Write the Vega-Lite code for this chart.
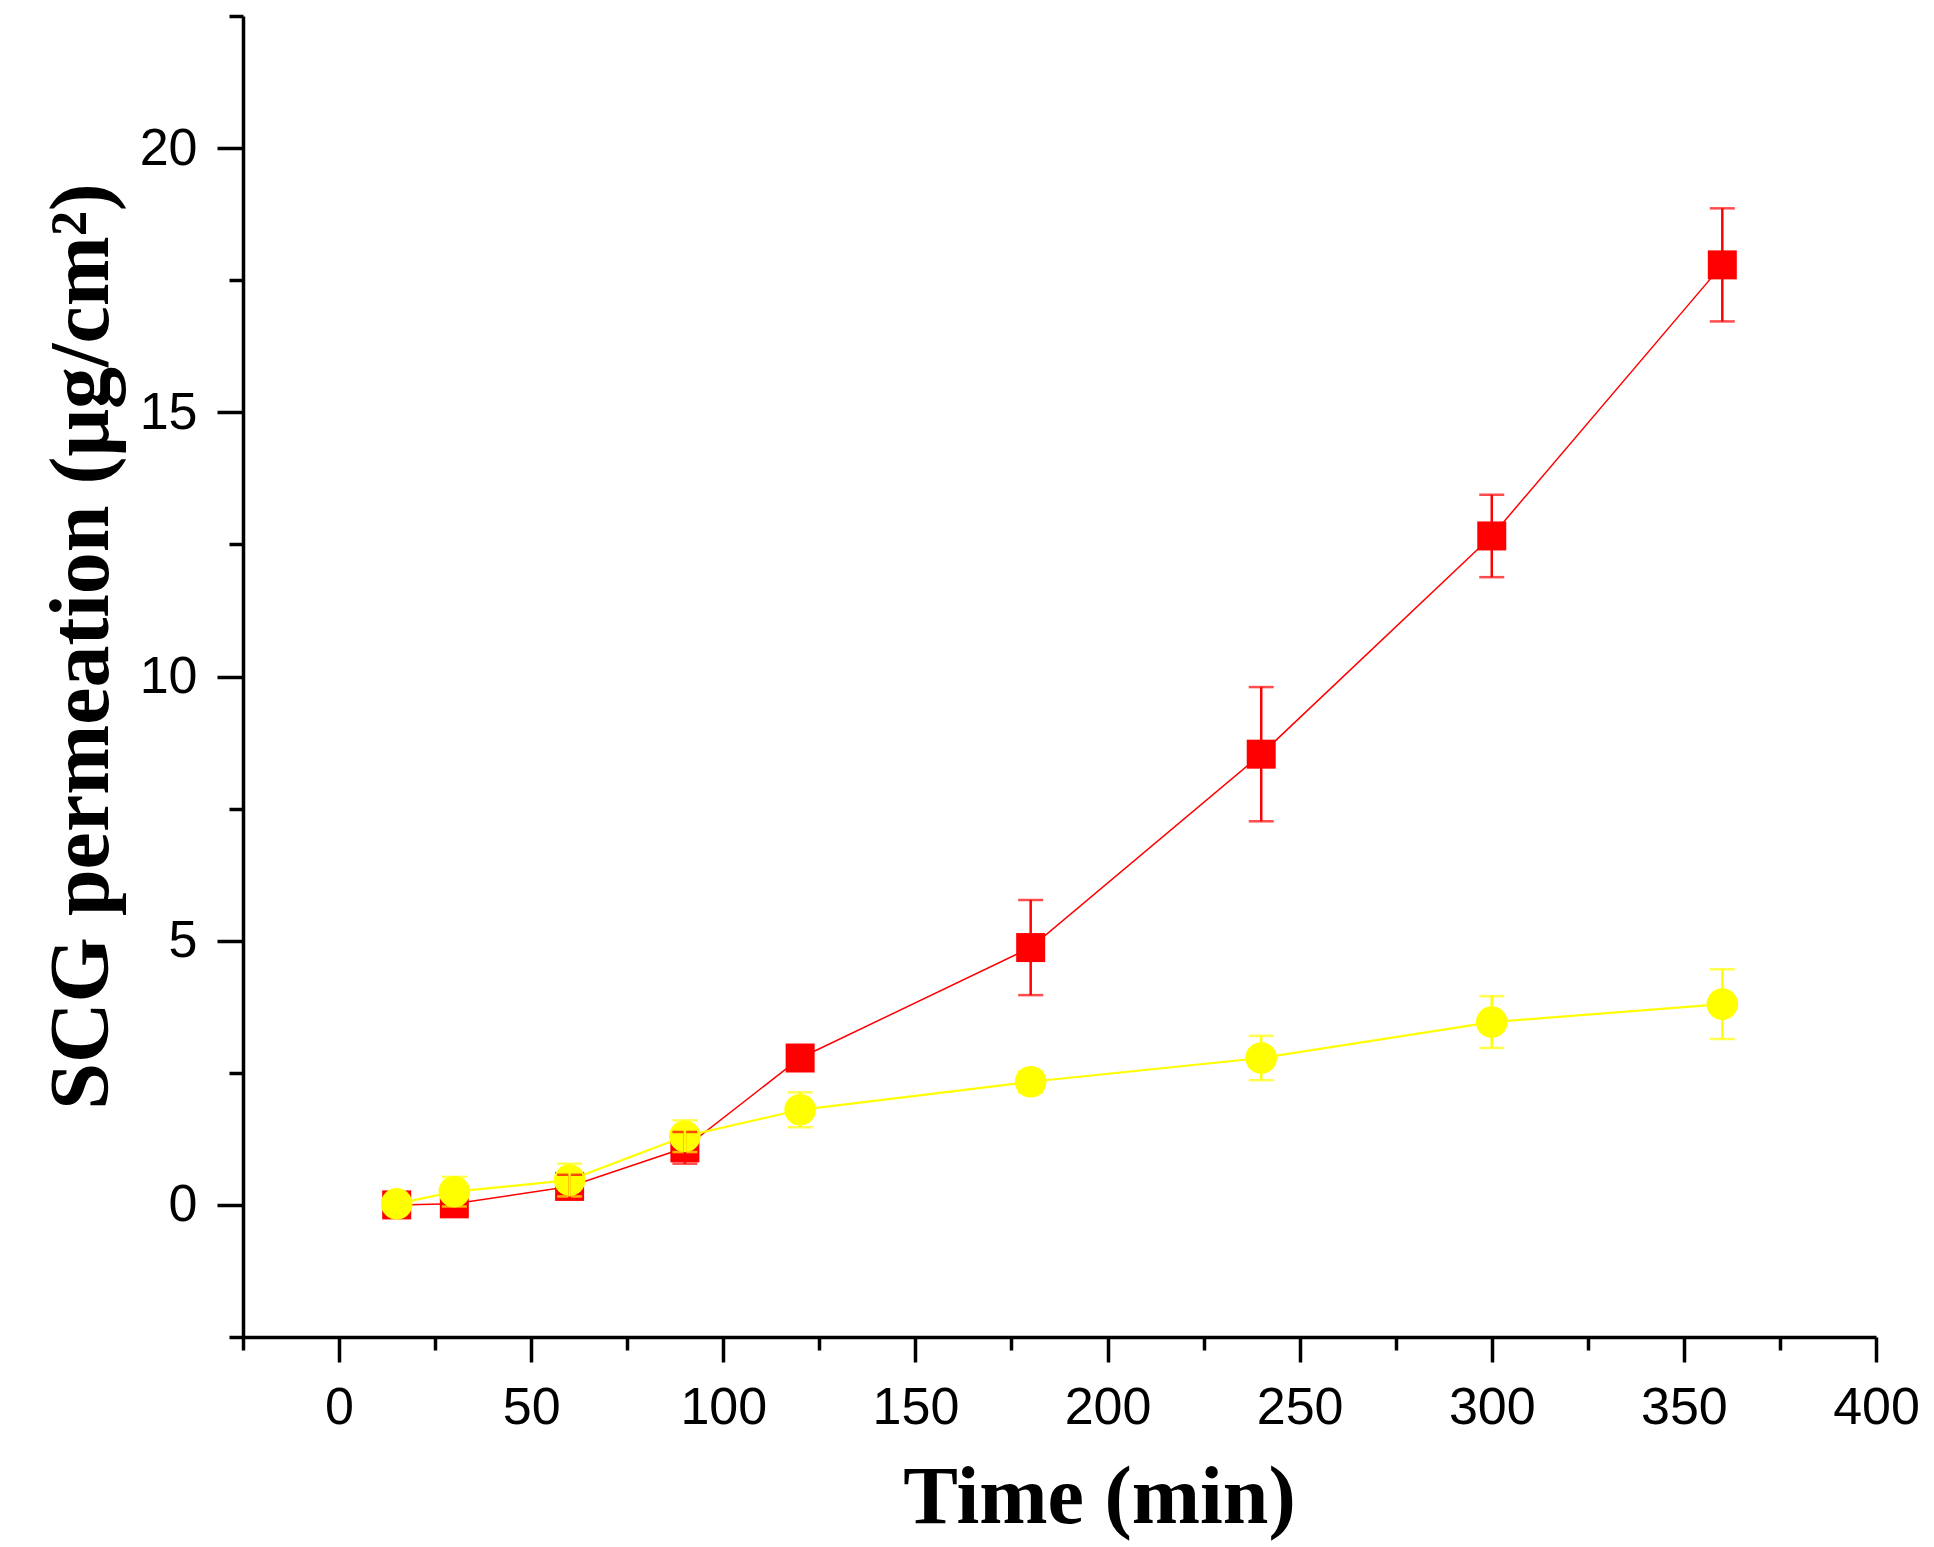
{
  "$schema": "https://vega.github.io/schema/vega-lite/v6.json",
  "autosize": {"type": "none"},
  "padding": {"left": 243, "top": 16, "right": 58, "bottom": 210},
  "width": 1633,
  "height": 1321,
  "background": "white",
  "data": {
    "values": [
      {"series": "Series A", "time": 15, "mean": 0.0, "err": 0},
      {"series": "Series A", "time": 30, "mean": 0.02, "err": 0},
      {"series": "Series A", "time": 60, "mean": 0.35, "err": 0.22},
      {"series": "Series A", "time": 90, "mean": 1.08, "err": 0.3},
      {"series": "Series A", "time": 120, "mean": 2.78, "err": 0.15},
      {"series": "Series A", "time": 180, "mean": 4.87, "err": 0.9},
      {"series": "Series A", "time": 240, "mean": 8.53, "err": 1.27},
      {"series": "Series A", "time": 300, "mean": 12.66, "err": 0.78},
      {"series": "Series A", "time": 360, "mean": 17.79, "err": 1.07},
      {"series": "Series B", "time": 15, "mean": 0.02, "err": 0.1},
      {"series": "Series B", "time": 30, "mean": 0.25, "err": 0.28},
      {"series": "Series B", "time": 60, "mean": 0.47, "err": 0.31},
      {"series": "Series B", "time": 90, "mean": 1.3, "err": 0.3},
      {"series": "Series B", "time": 120, "mean": 1.8, "err": 0.33},
      {"series": "Series B", "time": 180, "mean": 2.33, "err": 0.2},
      {"series": "Series B", "time": 240, "mean": 2.78, "err": 0.42},
      {"series": "Series B", "time": 300, "mean": 3.46, "err": 0.49},
      {"series": "Series B", "time": 360, "mean": 3.8, "err": 0.66}
    ]
  },
  "encoding": {
    "x": {
      "field": "time",
      "type": "quantitative",
      "scale": {"domain": [-25, 400], "nice": false, "zero": false},
      "axis": {
        "title": "Time (min)",
        "values": [-25, 0, 25, 50, 75, 100, 125, 150, 175, 200, 225, 250, 275, 300, 325, 350, 375, 400],
        "labelExpr": "datum.value % 50 === 0 ? datum.label : ''",
        "tickSize": {"condition": {"test": "datum.value % 50 === 0", "value": 25}, "value": 13},
        "labelPadding": 20,
        "labelFlush": false,
        "labelOverlap": false,
        "titleFontSize": 82,
        "titleX": 856,
        "titleY": 185,
        "titleAlign": "center",
        "titleBaseline": "alphabetic"
      }
    },
    "y": {
      "field": "mean",
      "type": "quantitative",
      "scale": {"domain": [-2.5, 22.5], "nice": false, "zero": false},
      "axis": {
        "title": "SCG permeation (μg/cm²)",
        "values": [-2.5, 0, 2.5, 5, 7.5, 10, 12.5, 15, 17.5, 20, 22.5],
        "labelExpr": "datum.value % 5 === 0 ? datum.label : ''",
        "tickSize": {"condition": {"test": "datum.value % 5 === 0", "value": 26}, "value": 14},
        "labelPadding": 20,
        "labelFlush": false,
        "labelOverlap": false,
        "titleFontSize": 84,
        "titleX": -136,
        "titleY": 630,
        "titleAlign": "center",
        "titleBaseline": "alphabetic"
      }
    },
    "color": {
      "field": "series",
      "type": "nominal",
      "scale": {"domain": ["Series A", "Series B"], "range": ["#ff0000", "#ffff00"]},
      "legend": null
    }
  },
  "layer": [
    {
      "mark": {"type": "line"},
      "encoding": {
        "strokeWidth": {
          "field": "series",
          "type": "ordinal",
          "scale": {"domain": ["Series A", "Series B"], "range": [1.5, 2.2]},
          "legend": null
        }
      }
    },
    {
      "mark": {"type": "point", "filled": true, "opacity": 1},
      "encoding": {
        "shape": {
          "field": "series",
          "type": "nominal",
          "scale": {"domain": ["Series A", "Series B"], "range": ["square", "circle"]},
          "legend": null
        },
        "size": {
          "field": "series",
          "type": "ordinal",
          "scale": {"domain": ["Series A", "Series B"], "range": [841, 1000]},
          "legend": null
        }
      }
    },
    {
      "transform": [{"filter": "datum.err > 0"}],
      "mark": {"type": "errorbar", "ticks": {"size": 25}, "thickness": 2.5},
      "encoding": {
        "yError": {"field": "err"}
      }
    }
  ],
  "config": {
    "view": {"stroke": null},
    "axis": {
      "grid": false,
      "domainColor": "black",
      "domainWidth": 3.5,
      "tickColor": "black",
      "tickWidth": 3.5,
      "labelFont": "Liberation Sans",
      "labelFontSize": 52,
      "labelColor": "black",
      "titleFont": "Liberation Serif",
      "titleFontWeight": "bold",
      "titleColor": "black"
    }
  }
}
